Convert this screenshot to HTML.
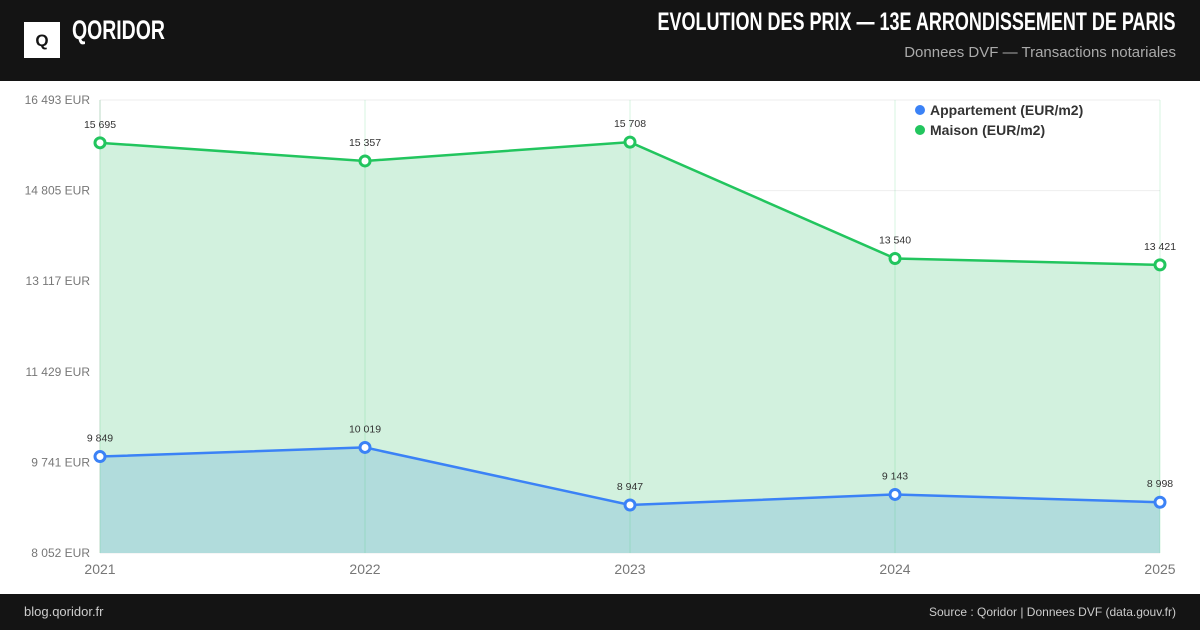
<!DOCTYPE html>
<html><head><meta charset="utf-8"><style>
body{margin:0;width:1200px;height:630px;overflow:hidden;background:#fff;font-family:"Liberation Sans",sans-serif}
.hdr{position:absolute;left:0;top:0;width:1200px;height:81px;background:#141414}
.ftr{position:absolute;left:0;top:594px;width:1200px;height:36px;background:#141414;color:#ccc;font-size:13px}
</style></head><body>
<div class="hdr">
  <div style="position:absolute;left:24px;top:22px;width:36px;height:36px;background:#fff;color:#141414;font-weight:bold;font-size:17px;text-align:center;line-height:37px">Q</div>
  <div style="position:absolute;left:72px;top:15px;color:#fff;font-weight:bold;font-size:27px;transform:scaleX(0.72);transform-origin:left">QORIDOR</div>
  <div style="position:absolute;right:24px;top:8px;color:#fff;font-weight:bold;font-size:25px;white-space:nowrap;transform:scaleX(0.72);transform-origin:right">EVOLUTION DES PRIX — 13E ARRONDISSEMENT DE PARIS</div>
  <div style="position:absolute;right:24px;top:44px;color:#aaa;font-size:15px">Donnees DVF — Transactions notariales</div>
</div>
<svg id="chart" width="1200" height="630" style="position:absolute;left:0;top:0"></svg>
<div class="ftr">
  <span style="position:absolute;left:24px;top:10px">blog.qoridor.fr</span>
  <span style="position:absolute;right:24px;top:11px;font-size:12px">Source : Qoridor | Donnees DVF (data.gouv.fr)</span>
</div>
<script>
const years=["2021","2022","2023","2024","2025"];
const appart=[9849,10019,8947,9143,8998];
const maison=[15695,15357,15708,13540,13421];
const yTicks=[8052,9741,11429,13117,14805,16493];
const yMin=8052,yMax=16493;
const L=100,R=1160,T=100,B=553;
const NS="http://www.w3.org/2000/svg";
const svg=document.getElementById('chart');
const x=i=>L+i*(R-L)/(years.length-1);
const y=v=>B-(v-yMin)/(yMax-yMin)*(B-T);
const fmt=v=>String(v).replace(/\B(?=(\d{3})+(?!\d))/g,' ');
function mk(tag,attrs,parent){const e=document.createElementNS(NS,tag);for(const k in attrs)e.setAttribute(k,attrs[k]);(parent||svg).appendChild(e);return e;}
yTicks.forEach(t=>{
  const g=mk('line',{x1:L,x2:R,y1:y(t),y2:y(t),stroke:'#eee','stroke-width':1});
  
  
  const tx=mk('text',{x:90,y:y(t)+4,'text-anchor':'end','font-size':12,fill:'#777'});
  tx.textContent=fmt(t)+' EUR';
  
  
});
const ax=mk('line',{x1:L,x2:L,y1:T,y2:B,stroke:'#ddd'});


function series(vals,fill,name){
  let d='M'+x(0)+','+B;vals.forEach((v,i)=>d+='L'+x(i)+','+y(v));d+='L'+x(vals.length-1)+','+B+'Z';
  const a=mk('path',{d:d,fill:fill});
  
  
}
series(maison,'#d2f1de','maison');
series(appart,'#b1dcdc','appartement');
years.forEach((yr,i)=>{
  const l=mk('line',{x1:x(i),x2:x(i),y1:T,y2:B,stroke:'rgba(34,197,94,0.18)'});
  
  
  const t=mk('text',{x:x(i),y:574,'text-anchor':'middle','font-size':14,fill:'#777'});
  t.textContent=yr;
  
  
});
function line(vals,stroke,name){
  const p=mk('polyline',{points:vals.map((v,i)=>x(i)+','+y(v)).join(' '),fill:'none',stroke:stroke,'stroke-width':2.5});
  
  
  vals.forEach((v,i)=>{
    const c=mk('circle',{cx:x(i),cy:y(v),r:5,fill:'#fff',stroke:stroke,'stroke-width':3});
    
    
    const t=mk('text',{x:x(i),y:y(v)-15,'text-anchor':'middle','font-size':10.5,fill:'#333'});
    t.textContent=fmt(v);
    
    
  });
}
line(maison,'#22c55e','maison');
line(appart,'#3b82f6','appartement');
[['Appartement (EUR/m2)','#3b82f6',110],['Maison (EUR/m2)','#22c55e',130]].forEach(([n,c,yy])=>{
  const d=mk('circle',{cx:920,cy:yy,r:5,fill:c});
  
  
  const t=mk('text',{x:930,y:yy+5,'font-size':14,'font-weight':'bold',fill:'#333'});
  t.textContent=n;
  
  
});
</script>
</body></html>
